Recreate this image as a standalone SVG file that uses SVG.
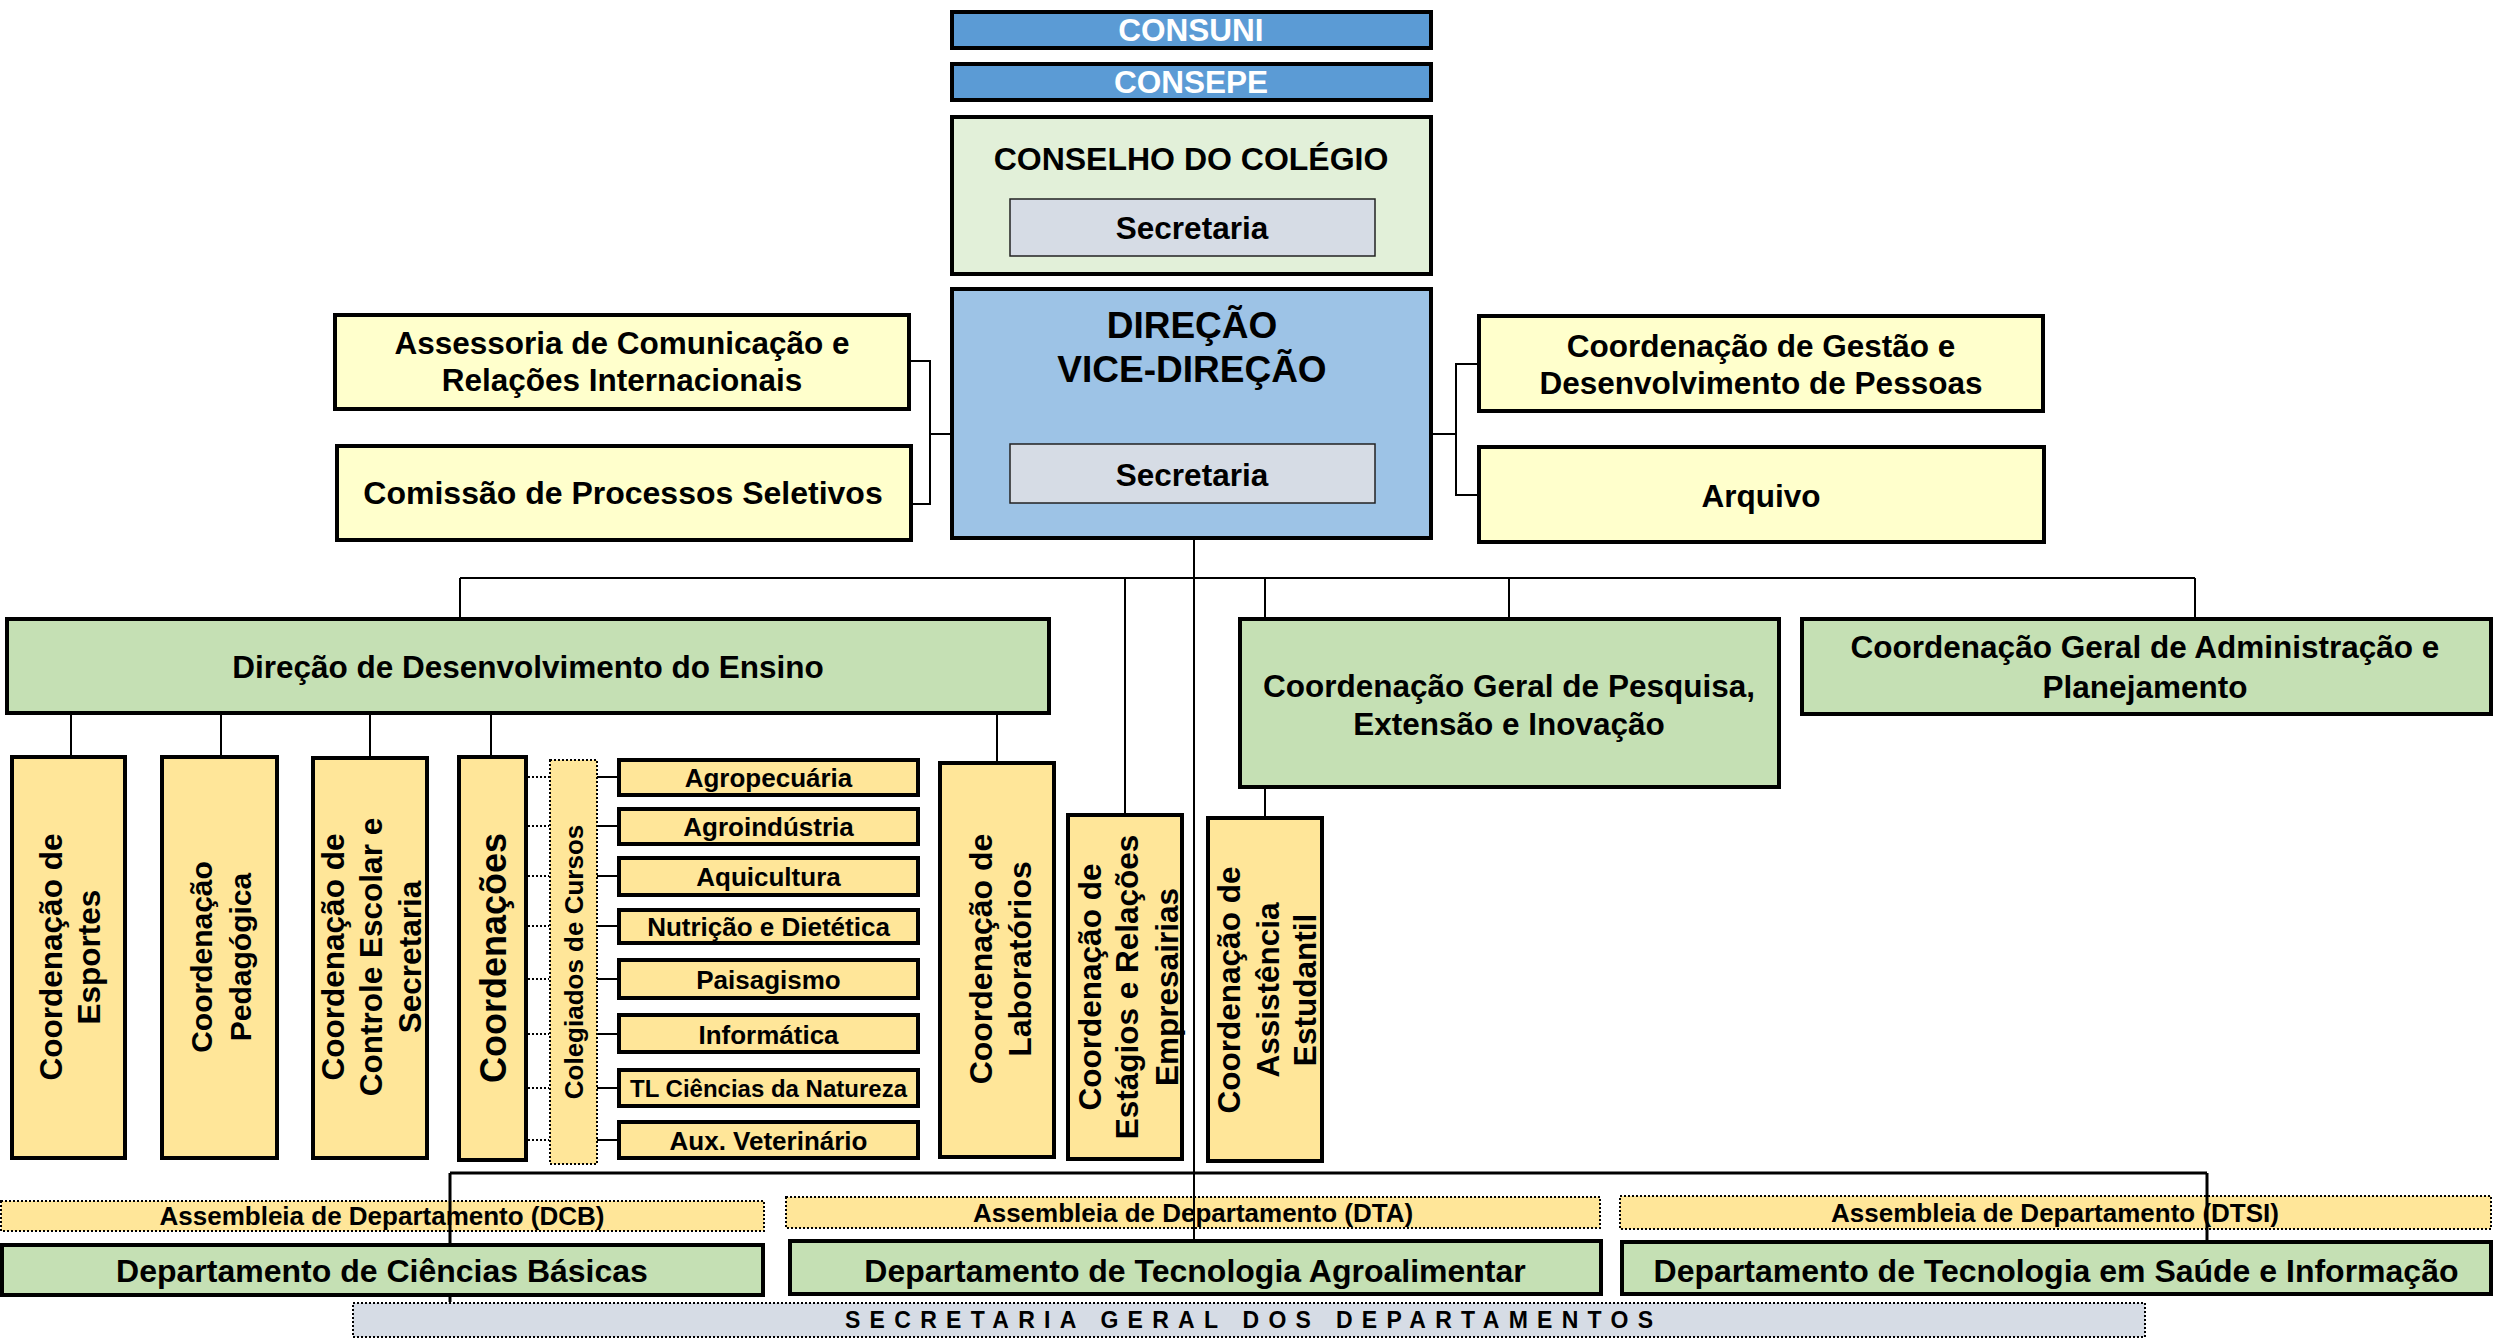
<svg xmlns="http://www.w3.org/2000/svg" width="2496" height="1340" viewBox="0 0 2496 1340">
<style>
text{font-family:"Liberation Sans",Arial,Helvetica,sans-serif;font-weight:bold;text-anchor:middle;fill:#000}
.b{stroke:#000;stroke-width:4}
.thin{stroke:#222;stroke-width:1.5}
.dot{stroke:#000;stroke-width:2;stroke-dasharray:2 2}
.blue{fill:#5B9BD5}
.lgreen{fill:#E2F0D9}
.grey{fill:#D6DCE5}
.dir{fill:#9DC3E6}
.pale{fill:#FFFFCC}
.green{fill:#C5E0B4}
.orange{fill:#FFE699}
.f31{font-size:31.5px}
.f26{font-size:26px}
.f32{font-size:32px}
.conn path{fill:none;stroke:#000;stroke-width:2}
.conn path.dl{stroke-dasharray:2 2}
</style>
<rect width="2496" height="1340" fill="#fff"/>

<g id="assembleia-dcb"><rect x="1" y="1201" width="763" height="30" class="orange dot"/><text x="382" y="1225" class="f26">Assembleia de Departamento (DCB)</text></g>
<g id="assembleia-dta"><rect x="786" y="1197" width="814" height="31" class="orange dot"/><text x="1193" y="1222" class="f26">Assembleia de Departamento (DTA)</text></g>
<g id="assembleia-dtsi"><rect x="1620" y="1196" width="871" height="33" class="orange dot"/><text x="2055" y="1222" class="f26">Assembleia de Departamento (DTSI)</text></g>

<g id="connectors" class="conn">
<path d="M911 361H930V504H913M930 434H952"/>
<path d="M1479 364H1456V495H1479M1431 434H1456"/>
<path d="M1194 539V1239"/>
<path d="M460 578H2195M460 578V617M1125 578V813M1265 578V617M1509 578V617M2195 578V617"/>
<path d="M71 714V755M221 714V755M370 714V756M491 714V755M997 714V761"/>
<path d="M1265 788V816"/>
<path class="dl" d="M528 777H549M528 826H549M528 876H549M528 926H549M528 979H549M528 1034H549M528 1088H549M528 1140H549"/>
<path d="M597 777H619M597 826H619M597 876H619M597 926H619M597 979H619M597 1034H619M597 1088H619M597 1140H619"/>
<path d="M450 1173H2207M450 1173V1302M2207 1173V1240" style="stroke-width:3"/>
</g>

<g id="consuni"><rect x="952" y="12" width="479" height="36" class="blue b"/><text x="1191" y="41" class="f31" fill="#fff" style="fill:#fff">CONSUNI</text></g>
<g id="consepe"><rect x="952" y="64" width="479" height="36" class="blue b"/><text x="1191" y="93" class="f31" style="fill:#fff">CONSEPE</text></g>
<g id="conselho"><rect x="952" y="117" width="479" height="157" class="lgreen b"/><text x="1191" y="169.5" class="f32">CONSELHO DO COLÉGIO</text>
<rect x="1010" y="199" width="365" height="57" class="grey thin"/><text x="1192" y="238.5" class="f31">Secretaria</text></g>
<g id="direcao"><rect x="952" y="289" width="479" height="249" class="dir b"/><text x="1192" y="337.5" style="font-size:37px">DIREÇÃO</text><text x="1192" y="382" style="font-size:37px">VICE-DIREÇÃO</text>
<rect x="1010" y="444" width="365" height="59" class="grey thin"/><text x="1192" y="485.5" class="f31">Secretaria</text></g>

<g id="assessoria"><rect x="335" y="315" width="574" height="94" class="pale b"/><text x="622" y="353.5" class="f31">Assessoria de Comunicação e</text><text x="622" y="391" class="f31">Relações Internacionais</text></g>
<g id="comissao"><rect x="337" y="446" width="574" height="94" class="pale b"/><text x="623" y="503.5" class="f32">Comissão de Processos Seletivos</text></g>
<g id="gestao"><rect x="1479" y="316" width="564" height="95" class="pale b"/><text x="1761" y="356.5" class="f31">Coordenação de Gestão e</text><text x="1761" y="394" class="f31">Desenvolvimento de Pessoas</text></g>
<g id="arquivo"><rect x="1479" y="447" width="565" height="95" class="pale b"/><text x="1761" y="506.5" class="f31">Arquivo</text></g>

<g id="dde"><rect x="7" y="619" width="1042" height="94" class="green b"/><text x="528" y="678" class="f31">Direção de Desenvolvimento do Ensino</text></g>
<g id="cgpei"><rect x="1240" y="619" width="539" height="168" class="green b"/><text x="1509" y="697" class="f31">Coordenação Geral de Pesquisa,</text><text x="1509" y="735" class="f31">Extensão e Inovação</text></g>
<g id="cgap"><rect x="1802" y="619" width="689" height="95" class="green b"/><text x="2145" y="658" class="f31">Coordenação Geral de Administração e</text><text x="2145" y="697.5" class="f31">Planejamento</text></g>

<g id="esportes"><rect x="12" y="757" width="113" height="401" class="orange b"/><g transform="translate(68.5 957) rotate(-90)" class="f31"><text x="0" y="-6.5">Coordenação de</text><text x="0" y="31.5">Esportes</text></g></g>
<g id="pedagogica"><rect x="162" y="757" width="115" height="401" class="orange b"/><g transform="translate(219 957) rotate(-90)" style="font-size:30px"><text x="0" y="-7">Coordenação</text><text x="0" y="32">Pedagógica</text></g></g>
<g id="controle"><rect x="313" y="758" width="114" height="400" class="orange b"/><g transform="translate(370 957) rotate(-90)" class="f31"><text x="0" y="-26">Coordenação de</text><text x="0" y="12">Controle Escolar e</text><text x="0" y="51">Secretaria</text></g></g>
<g id="coordenacoes"><rect x="459" y="757" width="67" height="403" class="orange b"/><g transform="translate(492.5 958) rotate(-90)" style="font-size:36px"><text x="0" y="13.5">Coordenações</text></g></g>
<g id="colegiados"><rect x="550" y="760" width="47" height="404" class="orange dot"/><g transform="translate(573.5 962) rotate(-90)" class="f26"><text x="0" y="9.5">Colegiados de Cursos</text></g></g>

<g id="c-agropecuaria"><rect x="619" y="760" width="299" height="35" class="orange b"/><text x="768.5" y="787" class="f26">Agropecuária</text></g>
<g id="c-agroindustria"><rect x="619" y="809" width="299" height="35" class="orange b"/><text x="768.5" y="836" class="f26">Agroindústria</text></g>
<g id="c-aquicultura"><rect x="619" y="858" width="299" height="37" class="orange b"/><text x="768.5" y="886" class="f26">Aquicultura</text></g>
<g id="c-nutricao"><rect x="619" y="910" width="299" height="33" class="orange b"/><text x="768.5" y="936" class="f26">Nutrição e Dietética</text></g>
<g id="c-paisagismo"><rect x="619" y="960" width="299" height="38" class="orange b"/><text x="768.5" y="989" class="f26">Paisagismo</text></g>
<g id="c-informatica"><rect x="619" y="1015" width="299" height="37" class="orange b"/><text x="768.5" y="1043.5" class="f26">Informática</text></g>
<g id="c-tl"><rect x="619" y="1070" width="299" height="36" class="orange b"/><text x="768.5" y="1097" style="font-size:24px">TL Ciências da Natureza</text></g>
<g id="c-aux"><rect x="619" y="1122" width="299" height="36" class="orange b"/><text x="768.5" y="1149.5" class="f26">Aux. Veterinário</text></g>

<g id="laboratorios"><rect x="940" y="763" width="114" height="394" class="orange b"/><g transform="translate(997 959) rotate(-90)" class="f32"><text x="0" y="-5">Coordenação de</text><text x="0" y="34">Laboratórios</text></g></g>
<g id="estagios"><rect x="1068" y="815" width="114" height="344" class="orange b"/><g transform="translate(1125 987) rotate(-90)" class="f31"><text x="0" y="-24">Coordenação de</text><text x="0" y="13">Estágios e Relações</text><text x="0" y="53">Empresairias</text></g></g>
<g id="assistencia"><rect x="1208" y="818" width="114" height="343" class="orange b"/><g transform="translate(1265 990) rotate(-90)" class="f31"><text x="0" y="-25">Coordenação de</text><text x="0" y="14">Assistência</text><text x="0" y="51">Estudantil</text></g></g>

<g id="dept-dcb"><rect x="2" y="1245" width="761" height="50" class="green b"/><text x="382" y="1282" class="f32">Departamento de Ciências Básicas</text></g>
<g id="dept-dta"><rect x="790" y="1241" width="811" height="53" class="green b"/><text x="1195" y="1282" class="f32">Departamento de Tecnologia Agroalimentar</text></g>
<g id="dept-dtsi"><rect x="1622" y="1242" width="869" height="52" class="green b"/><text x="2056" y="1282" class="f32">Departamento de Tecnologia em Saúde e Informação</text></g>
<g id="secretaria-geral"><rect x="353" y="1303" width="1792" height="34" class="grey dot"/><text x="845" y="1328" style="font-size:23px;text-anchor:start" textLength="808" lengthAdjust="spacing">SECRETARIA GERAL DOS DEPARTAMENTOS</text></g>
</svg>
